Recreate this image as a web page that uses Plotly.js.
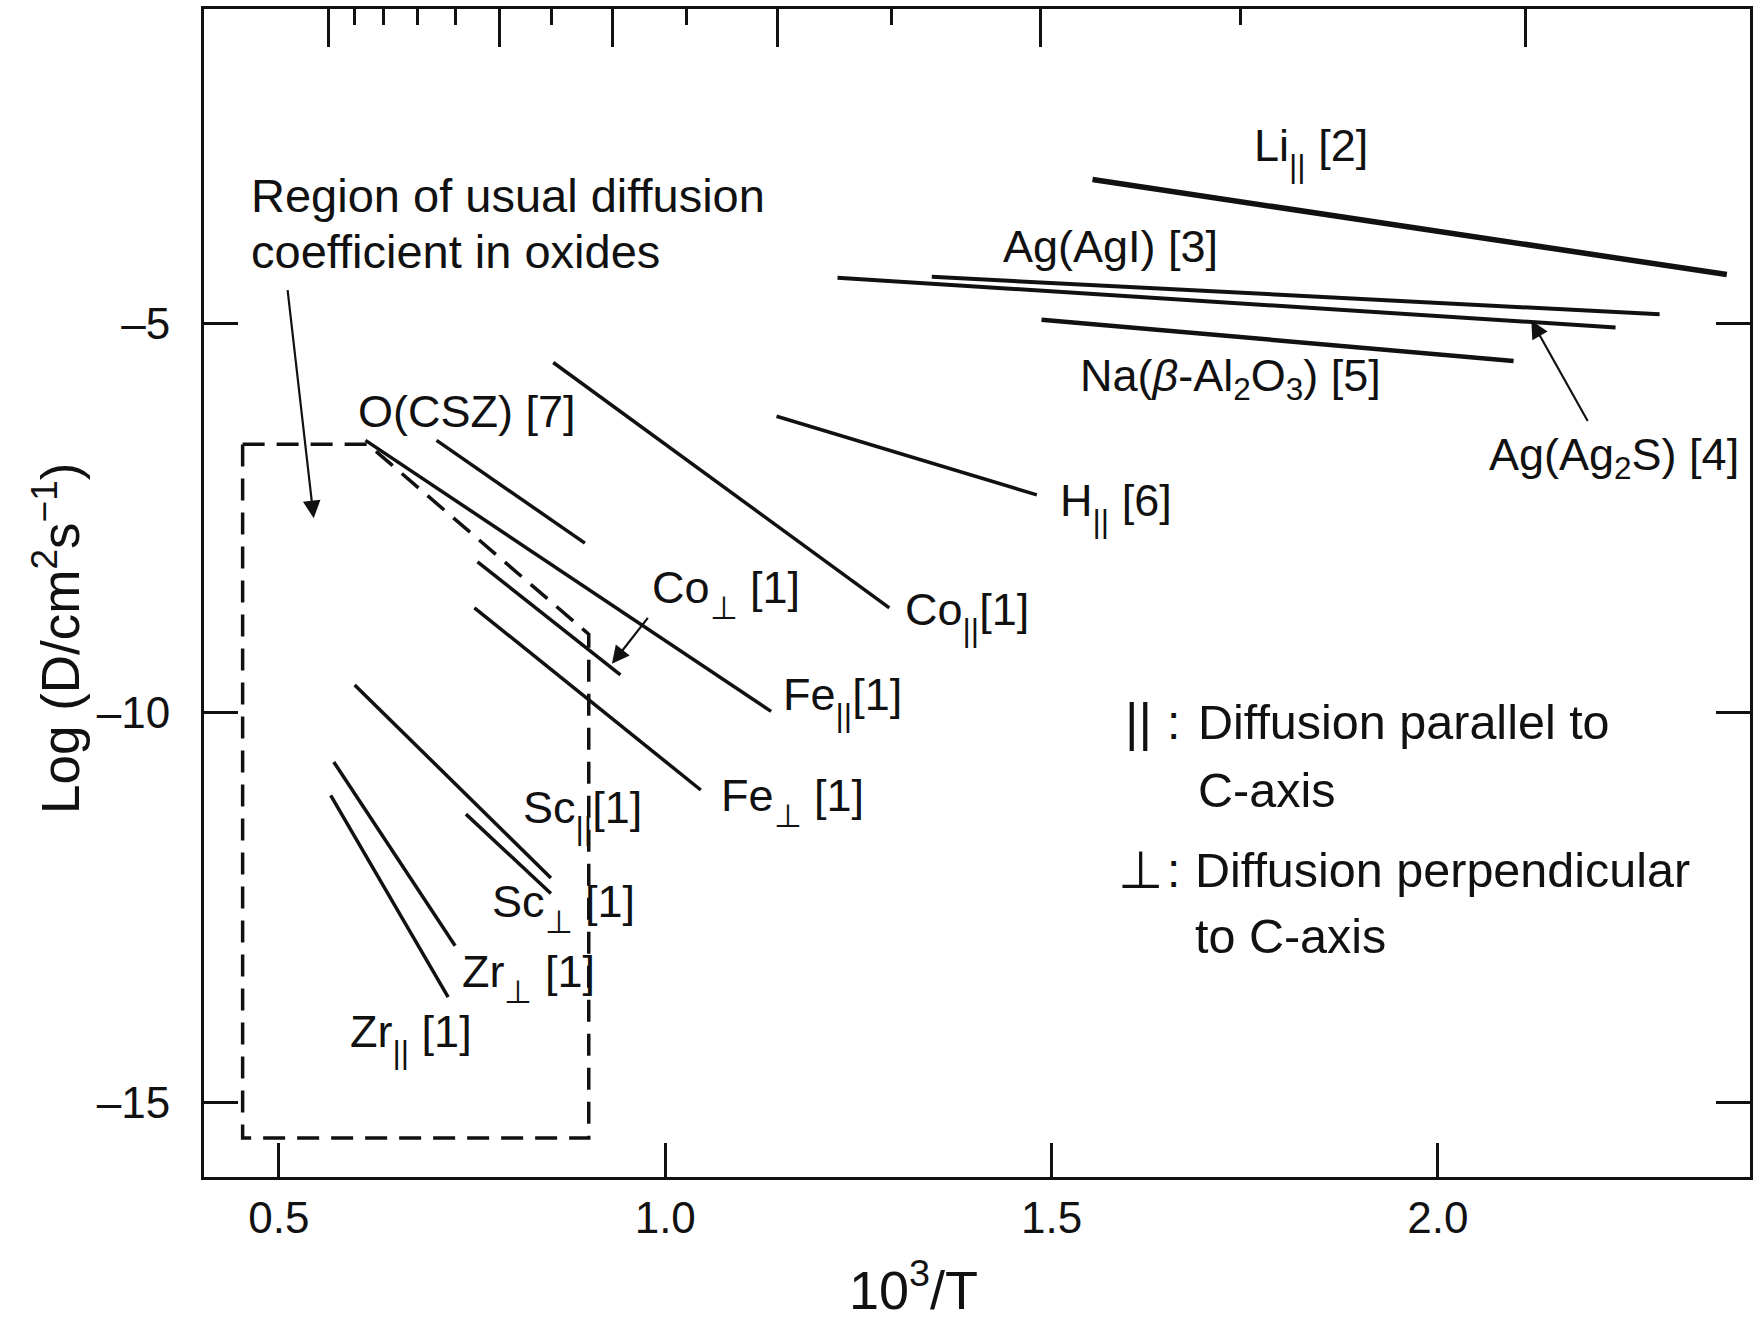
<!DOCTYPE html>
<html><head><meta charset="utf-8">
<script src="https://cdn.plot.ly/plotly-3.0.1.min.js"></script>
<style>html,body{margin:0;padding:0;background:#fff}</style>
</head><body><div id="chart" style="width:1755px;height:1323px"></div>
<script>
// ---- data: straight diffusion lines (10^3/T, log D) ----
const seriesNames = ["Li|| [2]", "Ag(AgI) [3]", "Ag(Ag2S) [4]", "Na(beta-Al2O3) [5]", "H|| [6]", "O(CSZ) [7]",
  "Co|| [1]", "Co⊥ [1]", "Fe|| [1]", "Fe⊥ [1]", "Sc|| [1]", "Sc⊥ [1]", "Zr|| [1]", "Zr⊥ [1]"];
const xStart = [1.553, 1.345, 1.223, 1.487, 1.144, 0.704, 0.855, 0.757, 0.612, 0.753, 0.598, 0.742, 0.567, 0.571];
const xEnd   = [2.374, 2.287, 2.230, 2.098, 1.481, 0.896, 1.290, 0.942, 1.137, 1.046, 0.852, 0.852, 0.719, 0.728];
const yStart = [-3.15, -4.40, -4.41, -4.95, -6.19, -6.50, -5.50, -8.06, -6.50, -8.65, -9.64, -11.30, -11.06, -10.63];
const yEnd   = [-4.37, -4.88, -5.05, -5.48, -7.20, -7.82, -8.65, -9.51, -9.98, -10.99, -12.12, -12.32, -13.65, -12.99];
const lineWidths = [5.5, 4, 4, 4.5, 3.5, 3.5, 3.5, 3.5, 3.5, 3.5, 3.5, 3.5, 3.5, 3.5];

// ---- region of usual diffusion coefficient in oxides (dashed outline) ----
const regionX = [0.453, 0.615, 0.901, 0.901, 0.453, 0.453];
const regionY = [-6.55, -6.55, -8.99, -15.46, -15.46, -6.55];

// ---- curve labels (|| = parallel, ⊥ = perpendicular to C-axis) ----
const PAR = '<sub><sub><span style="font-size:32px">||</span></sub></sub>';
const PERP = '<sub><sub><span style="font-size:32px">⊥</span></sub></sub>';
const labelText = ["Li" + PAR + " [2]", "Ag(AgI) [3]", "Na(<i>β</i>-Al<sub>2</sub>O<sub>3</sub>) [5]", "Ag(Ag<sub>2</sub>S) [4]",
  "H" + PAR + " [6]", "O(CSZ) [7]", "Co" + PAR + "[1]", "Co" + PERP + " [1]", "Fe" + PAR + "[1]", "Fe" + PERP + " [1]",
  "Sc" + PAR + "[1]", "Sc" + PERP + " [1]", "Zr" + PERP + " [1]", "Zr" + PAR + " [1]"];
const labelX = [1.760, 1.434, 1.534, 2.064, 1.508, 0.600, 1.308, 0.980, 1.150, 1.069, 0.813, 0.773, 0.734, 0.589];
const labelY = [-2.79, -4.01, -5.71, -6.72, -7.35, -6.13, -8.76, -8.47, -9.85, -11.15, -11.30, -12.50, -13.40, -14.17];

// ---- arrows (tail -> tip) ----
const arrowTailX = [0.511, 0.979, 2.195];
const arrowTailY = [-4.55, -8.76, -6.27];
const arrowTipX  = [0.545, 0.931, 2.121];
const arrowTipY  = [-7.50, -9.37, -4.96];

// ---- free text ----
const regionText = ["Region of usual diffusion", "coefficient in oxides"];
const regionTextX = [0.461, 0.461];
const regionTextY = [-3.36, -4.07];
const legendSymbols = ["||", "⊥"];
const legendSymX = [1.593, 1.584];
const legendColonX = [1.647, 1.647];
const legendLines = ["Diffusion parallel to", "C-axis", "Diffusion perpendicular", "to C-axis"];
const legendLineX = [1.687, 1.687, 1.683, 1.683];
const legendLineY = [-10.12, -10.99, -12.02, -12.86];

// ---- axes ----
const xTickVals = [0.5, 1.0, 1.5, 2.0];
const xTickText = ["0.5", "1.0", "1.5", "2.0"];
const yTickVals = [-5, -10, -15];
const yTickText = ["–5", "–10", "–15"];
const tempMajorC = [1500, 1000, 800, 600, 400, 200];
const tempMinorC = [1400, 1300, 1200, 1100, 900, 700, 500, 300];
const xRange = [0.403, 2.404];
const yRange = [-15.96, -0.96];

const FONT = "Liberation Sans, Arial, Helvetica, sans-serif";
const INK = "#111";

// plot-area geometry (pixels) used to place the two axis titles in paper units
const PL = 204, PR = 1750, PT = 9, PB = 1177;
const px2paperX = p => (p - PL) / (PR - PL);
const px2paperY = p => (PB - p) / (PB - PT);

const traces = [];
for (let i = 0; i < seriesNames.length; i++) {
  traces.push({
    type: "scatter", mode: "lines", name: seriesNames[i],
    x: [xStart[i], xEnd[i]], y: [yStart[i], yEnd[i]],
    line: {color: INK, width: lineWidths[i]},
    showlegend: false, hoverinfo: "name"
  });
}
traces.push({
  type: "scatter", mode: "lines", name: "Region of usual diffusion coefficient in oxides",
  x: regionX, y: regionY, line: {color: INK, width: 3.5, dash: "22px,12px"},
  showlegend: false, hoverinfo: "skip"
});
// helper traces so that the temperature tick axes are drawn
traces.push({type: "scatter", mode: "lines", x: [], y: [], xaxis: "x2", yaxis: "y", showlegend: false, hoverinfo: "skip"});
traces.push({type: "scatter", mode: "lines", x: [], y: [], xaxis: "x3", yaxis: "y", showlegend: false, hoverinfo: "skip"});

const toInvT = c => 1000 / (c + 273.15);

const annotations = [];
for (let i = 0; i < labelText.length; i++) {
  annotations.push({x: labelX[i], y: labelY[i], xref: "x", yref: "y", text: labelText[i],
    showarrow: false, xanchor: "left", yanchor: "middle", font: {size: 45, family: FONT, color: INK}});
}
for (let i = 0; i < arrowTipX.length; i++) {
  annotations.push({x: arrowTipX[i], y: arrowTipY[i], ax: arrowTailX[i], ay: arrowTailY[i],
    xref: "x", yref: "y", axref: "x", ayref: "y", text: "", showarrow: true,
    arrowhead: 2, arrowsize: 1.6, arrowwidth: 2.2, arrowcolor: INK, standoff: 0, startstandoff: 0});
}
for (let i = 0; i < regionText.length; i++) {
  annotations.push({x: regionTextX[i], y: regionTextY[i], xref: "x", yref: "y", text: regionText[i],
    showarrow: false, xanchor: "left", yanchor: "middle", font: {size: 47, family: FONT, color: INK}});
}
for (let i = 0; i < legendSymbols.length; i++) {
  annotations.push({x: legendSymX[i], y: legendLineY[i * 2], xref: "x", yref: "y", text: legendSymbols[i],
    showarrow: false, xanchor: "left", yanchor: "middle", font: {size: 52, family: FONT, color: INK}});
  annotations.push({x: legendColonX[i], y: legendLineY[i * 2], xref: "x", yref: "y", text: ":",
    showarrow: false, xanchor: "left", yanchor: "middle", font: {size: 48, family: FONT, color: INK}});
}
for (let i = 0; i < legendLines.length; i++) {
  annotations.push({x: legendLineX[i], y: legendLineY[i], xref: "x", yref: "y", text: legendLines[i],
    showarrow: false, xanchor: "left", yanchor: "middle", font: {size: 48.5, family: FONT, color: INK}});
}
// axis titles
annotations.push({x: px2paperX(913), y: px2paperY(1286), xref: "paper", yref: "paper", text: "10<sup>3</sup>/T",
  showarrow: false, xanchor: "center", yanchor: "middle", font: {size: 54, family: FONT, color: INK}});
annotations.push({x: px2paperX(56), y: px2paperY(638), xref: "paper", yref: "paper", text: "Log (D/cm<sup>2</sup>s<sup>−1</sup>)",
  textangle: -90, showarrow: false, xanchor: "center", yanchor: "middle", font: {size: 53, family: FONT, color: INK}});

const topAxis = (vals, len) => ({
  overlaying: "x", side: "top", range: xRange, tickmode: "array", tickvals: vals.map(toInvT),
  ticks: "inside", ticklen: len, tickwidth: 2.5, tickcolor: INK, showticklabels: false,
  showline: false, showgrid: false, zeroline: false, fixedrange: true
});

const layout = {
  width: 1755, height: 1323,
  margin: {l: PL, r: 1755 - PR, t: PT, b: 1323 - PB},
  paper_bgcolor: "#fff", plot_bgcolor: "#fff",
  font: {family: FONT, color: INK},
  showlegend: false,
  xaxis: {
    range: xRange, tickmode: "array", tickvals: xTickVals, ticktext: xTickText,
    ticks: "inside", ticklen: 34, tickwidth: 2.5, tickcolor: INK,
    showline: true, linewidth: 3, linecolor: INK, mirror: true,
    showgrid: false, zeroline: false, tickfont: {size: 44, family: FONT, color: INK},
    ticklabelstandoff: 0
  },
  xaxis2: topAxis(tempMajorC, 38),
  xaxis3: topAxis(tempMinorC, 16),
  yaxis: {
    range: yRange, tickmode: "array", tickvals: yTickVals, ticktext: yTickText,
    ticks: "inside", ticklen: 34, tickwidth: 2.5, tickcolor: INK,
    showline: true, linewidth: 3, linecolor: INK, mirror: "ticks",
    showgrid: false, zeroline: false, tickfont: {size: 44, family: FONT, color: INK},
    ticklabelstandoff: 22
  },
  annotations: annotations
};

Plotly.newPlot("chart", traces, layout, {displayModeBar: false});
</script>
</body></html>
